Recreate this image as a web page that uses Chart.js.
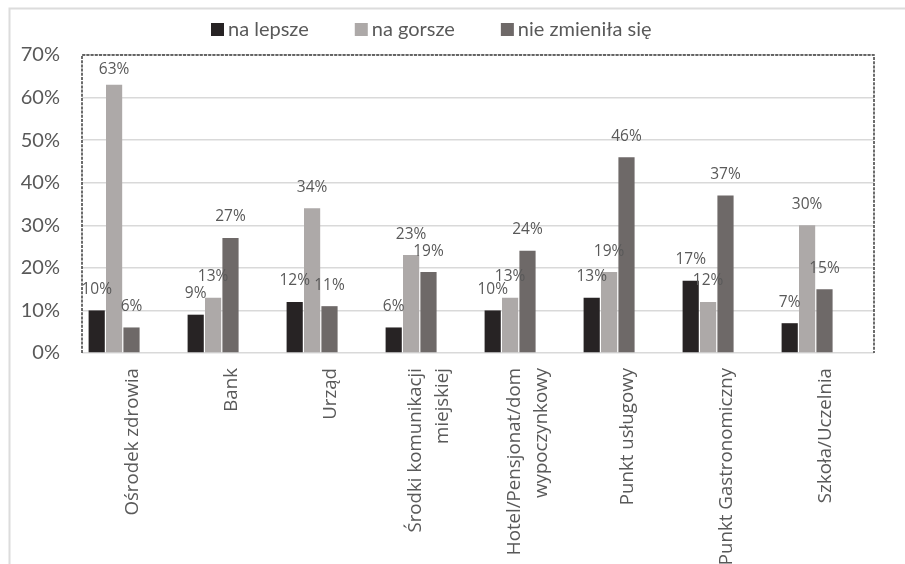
<!DOCTYPE html>
<html lang="pl">
<head>
<meta charset="utf-8">
<title>Ocena zmian</title>
<script src="https://cdn.jsdelivr.net/npm/chart.js@4.4.0/dist/chart.umd.min.js"></script>
<style>
  html, body { margin: 0; padding: 0; background: #ffffff; }
  #wrap { position: relative; width: 905px; height: 564px; }
  canvas { display: block; }
</style>
</head>
<body>
<div id="wrap"><canvas id="chart" width="905" height="564"></canvas></div>
<script>
// Categories (multi-line names are split into lines)
const categories = [
  ['Ośrodek zdrowia'],
  ['Bank'],
  ['Urząd'],
  ['Środki komunikacji', 'miejskiej'],
  ['Hotel/Pensjonat/dom', 'wypoczynkowy'],
  ['Punkt usługowy'],
  ['Punkt Gastronomiczny'],
  ['Szkoła/Uczelnia']
];

// Series names and values (percent)
const seriesNames = ['na lepsze', 'na gorsze', 'nie zmieniła się'];
const naLepsze = [10, 9, 12, 6, 10, 13, 17, 7];
const naGorsze = [63, 13, 34, 23, 13, 19, 12, 30];
const nieZmienilaSie = [6, 27, 11, 19, 24, 46, 37, 15];

// Value axis ticks
const yTicks = [0, 10, 20, 30, 40, 50, 60, 70];

const seriesColors = ['#272324', '#ada9a8', '#6e6968'];
const textGray = '#595959';

// Outer frame and white background
const framePlugin = {
  id: 'frame',
  beforeDraw(chart) {
    const ctx = chart.ctx;
    ctx.save();
    ctx.fillStyle = '#ffffff';
    ctx.fillRect(0, 0, chart.width, chart.height);
    ctx.strokeStyle = '#dcdcdc';
    ctx.lineWidth = 2;
    ctx.beginPath();
    ctx.moveTo(9.5, chart.height);
    ctx.lineTo(9.5, 8.5);
    ctx.lineTo(chart.width, 8.5);
    ctx.stroke();
    ctx.restore();
  }
};

// Dashed dark border on the left, top and right of the plot area
const plotBorderPlugin = {
  id: 'plotBorder',
  beforeDatasetsDraw(chart) {
    const { ctx, chartArea: a } = chart;
    ctx.save();
    ctx.strokeStyle = '#3c3c3c';
    ctx.lineWidth = 1.5;
    ctx.setLineDash([3, 1.2]);
    ctx.beginPath();
    ctx.moveTo(a.left, a.bottom);
    ctx.lineTo(a.left, a.top);
    ctx.lineTo(a.right, a.top);
    ctx.lineTo(a.right, a.bottom);
    ctx.stroke();
    ctx.restore();
  }
};

// Percentage labels above each bar
const valueLabelPlugin = {
  id: 'valueLabels',
  afterDatasetsDraw(chart) {
    const { ctx, chartArea: a } = chart;
    ctx.save();
    ctx.font = '15.5px "Open Sans"';
    ctx.fillStyle = textGray;
    ctx.textAlign = 'center';
    ctx.textBaseline = 'middle';
    chart.data.datasets.forEach((ds, di) => {
      if (ds.spacer) return;
      const meta = chart.getDatasetMeta(di);
      meta.data.forEach((bar, i) => {
        const v = ds.data[i];
        if (v == null) return;
        const y = Math.max(bar.y - 21, a.top + 15);
        ctx.fillText(v + '%', bar.x, y);
      });
    });
    ctx.restore();
  }
};

// Vertical category names under the axis, lines centred on the category
const categoryLabelPlugin = {
  id: 'categoryLabels',
  afterDraw(chart) {
    const { ctx, chartArea: a } = chart;
    const xs = chart.scales.x;
    const lineH = 27;
    ctx.save();
    ctx.font = '18.7px "Open Sans"';
    ctx.fillStyle = textGray;
    ctx.textAlign = 'right';
    ctx.textBaseline = 'middle';
    chart.data.labels.forEach((lines, i) => {
      const cx = xs.getPixelForValue(i);
      lines.forEach((line, j) => {
        const dx = (j - (lines.length - 1) / 2) * lineH + 1;
        ctx.save();
        ctx.translate(cx + dx, a.bottom + 15);
        ctx.rotate(-Math.PI / 2);
        ctx.fillText(line, 0, 0);
        ctx.restore();
      });
    });
    ctx.restore();
  }
};

// Legend row above the plot
const legendPlugin = {
  id: 'legendRow',
  afterDraw(chart) {
    const ctx = chart.ctx;
    ctx.save();
    ctx.font = '20px Lato';
    ctx.textBaseline = 'alphabetic';
    ctx.textAlign = 'left';
    let x = 211;
    chart.data.datasets.forEach(ds => {
      if (ds.spacer) return;
      ctx.fillStyle = ds.backgroundColor;
      ctx.fillRect(x, 23, 13, 13);
      ctx.fillStyle = textGray;
      ctx.fillText(ds.label, x + 17, 36);
      x += 17 + ctx.measureText(ds.label).width + 46;
    });
    ctx.restore();
  }
};

function build() {
  const series = [naLepsze, naGorsze, nieZmienilaSie];
  const datasets = series.map((values, k) => ({
    label: seriesNames[k],
    data: values,
    backgroundColor: seriesColors[k],
    borderWidth: 0,
    categoryPercentage: 0.879,
    barPercentage: 0.93
  }));
  // two empty slots keep each group of bars on the left side of its category
  for (let k = 0; k < 2; k++) {
    datasets.push({
      label: '',
      spacer: true,
      data: [],
      backgroundColor: 'rgba(0,0,0,0)',
      categoryPercentage: 0.879,
      barPercentage: 0.93
    });
  }

  new Chart(document.getElementById('chart'), {
    type: 'bar',
    data: { labels: categories, datasets },
    options: {
      responsive: false,
      animation: false,
      devicePixelRatio: 1,
      layout: { padding: { top: 55, right: 31, left: 0, bottom: 0 } },
      plugins: {
        legend: { display: false },
        tooltip: { enabled: false }
      },
      scales: {
        x: {
          type: 'category',
          grid: { display: false },
          border: { display: false },
          ticks: { display: false },
          afterFit(scale) { scale.height = 211; }
        },
        y: {
          min: yTicks[0],
          max: yTicks[yTicks.length - 1],
          afterBuildTicks(scale) { scale.ticks = yTicks.map(v => ({ value: v })); },
          ticks: {
            callback: v => v + '%',
            font: { family: 'Lato', size: 20 },
            color: textGray,
            padding: 22
          },
          grid: { color: '#d9d9d9', lineWidth: 1.5, drawTicks: false },
          border: { display: false },
          afterFit(scale) { scale.width = 82; }
        }
      }
    },
    plugins: [framePlugin, plotBorderPlugin, valueLabelPlugin, categoryLabelPlugin, legendPlugin]
  });
}

const fontLoads = [
  document.fonts.load('20px Lato'),
  document.fonts.load('18.7px "Open Sans"'),
  document.fonts.load('15.5px "Open Sans"')
];
Promise.all(fontLoads).then(build, build);
</script>
</body>
</html>
